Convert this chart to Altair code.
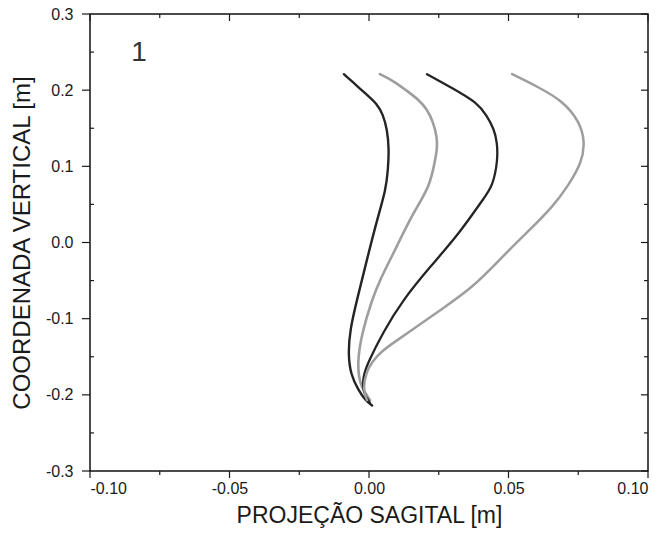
import altair as alt
import pandas as pd

# ---- data ----
curve_a_x = [-0.0090, -0.0050, -0.0011, 0.0029, 0.0050, 0.0065, 0.0072, 0.0068, 0.0061, 0.0029, -0.0007,
             -0.0043, -0.0068, -0.0075, -0.0065, -0.0039, -0.0014, 0.0011]
curve_a_y = [0.221, 0.208, 0.195, 0.182, 0.168, 0.149, 0.122, 0.096, 0.070, 0.030, -0.022,
             -0.075, -0.114, -0.147, -0.174, -0.193, -0.207, -0.214]

curve_b_x = [0.0039, 0.0093, 0.0136, 0.0176, 0.0208, 0.0229, 0.0244, 0.0244, 0.0237, 0.0219, 0.0158,
             0.0100, 0.0039, 0.0011, -0.0025, -0.0043, -0.0032, 0.0004]
curve_b_y = [0.221, 0.211, 0.199, 0.188, 0.175, 0.159, 0.139, 0.122, 0.109, 0.074, 0.039,
             -0.005, -0.049, -0.075, -0.118, -0.158, -0.189, -0.207]

curve_c_x = [0.0208, 0.0297, 0.0387, 0.0423, 0.0448, 0.0459, 0.0462, 0.0444, 0.0409, 0.0326, 0.0219,
             0.0122, 0.0050, -0.0004, -0.0022, -0.0022, 0.0004]
curve_c_y = [0.221, 0.203, 0.184, 0.166, 0.149, 0.132, 0.109, 0.074, 0.057, 0.013, -0.032,
             -0.075, -0.118, -0.158, -0.176, -0.197, -0.211]

curve_d_x = [0.0513, 0.0602, 0.0695, 0.0756, 0.0774, 0.0763, 0.0713, 0.0659, 0.0566, 0.0480, 0.0373,
             0.0254, 0.0158, 0.0090, 0.0045, 0.0012, -0.0010, -0.0022, -0.0007]
curve_d_y = [0.221, 0.205, 0.186, 0.158, 0.132, 0.105, 0.074, 0.047, 0.013, -0.018, -0.059,
             -0.089, -0.114, -0.131, -0.143, -0.156, -0.170, -0.193, -0.207]

series_names = ["B", "D", "A", "C"]
series_colors = ["#9e9e9e", "#9e9e9e", "#242424", "#242424"]
series_widths = [2.6, 2.3, 3.4, 3.4]

x_major = [-0.10, -0.05, 0.0, 0.05, 0.10]
x_minor = [-0.075, -0.025, 0.025, 0.075]
y_major = [-0.3, -0.2, -0.1, 0.0, 0.1, 0.2, 0.3]
y_minor = [-0.25, -0.15, -0.05, 0.05, 0.15, 0.25]

panel_label = ["1"]
panel_label_x = [-0.0824]
panel_label_y = [0.230]

x_title = "PROJEÇÃO SAGITAL [m]"
y_title = "COORDENADA VERTICAL [m]"

# ---- build tables ----
rows = []
for name, xs, ys in zip(["A", "B", "C", "D"], [curve_a_x, curve_b_x, curve_c_x, curve_d_x],
                        [curve_a_y, curve_b_y, curve_c_y, curve_d_y]):
    for i, (xv, yv) in enumerate(zip(xs, ys)):
        rows.append({"series": name, "i": i, "x": xv, "y": yv})
df = pd.DataFrame(rows)

W, H = 558, 457
FONT = "Liberation Sans"
xscale = alt.Scale(domain=[-0.1, 0.1], nice=False, zero=False)
yscale = alt.Scale(domain=[-0.3, 0.3], nice=False, zero=False)

x_label_expr = ("abs(datum.value) < 1e-9 ? '0.00' : (datum.value < 0 ? '-' + format(-datum.value, '.2f') "
                ": format(datum.value, '.2f'))")
y_label_expr = ("abs(datum.value) < 1e-9 ? '0.0' : (datum.value < 0 ? '-' + format(-datum.value, '.1f') "
                ": format(datum.value, '.1f'))")

xaxis = alt.Axis(values=x_major, labelExpr=x_label_expr, ticks=False, tickSize=0, domain=False, grid=False,
                 labelFont=FONT, labelFontSize=16, labelColor="#1a1a1a", labelPadding=9,
                 title=x_title, titleFont=FONT, titleFontSize=23, titleFontWeight="normal",
                 titleColor="#1a1a1a", titlePadding=8)
yaxis = alt.Axis(values=y_major, labelExpr=y_label_expr, ticks=False, tickSize=0, domain=False, grid=False,
                 labelFont=FONT, labelFontSize=16, labelColor="#1a1a1a", labelPadding=17,
                 title=y_title, titleFont=FONT, titleFontSize=24, titleFontWeight="normal",
                 titleColor="#1a1a1a", titlePadding=11)

lines = alt.Chart(df).mark_line(interpolate="basis", strokeCap="round", strokeJoin="round").encode(
    x=alt.X("x:Q", scale=xscale, axis=xaxis),
    y=alt.Y("y:Q", scale=yscale, axis=yaxis),
    detail="series:N",
    order=alt.Order("i:Q"),
    color=alt.Color("series:N", scale=alt.Scale(domain=series_names, range=series_colors), legend=None),
    strokeWidth=alt.StrokeWidth("series:N", scale=alt.Scale(domain=series_names, range=series_widths), legend=None),
)

label_df = pd.DataFrame({"t": panel_label, "x": panel_label_x, "y": panel_label_y})
label = alt.Chart(label_df).mark_text(font=FONT, fontSize=28, color="#333333", baseline="bottom",
                                      align="center").encode(
    x=alt.X("x:Q", scale=xscale), y=alt.Y("y:Q", scale=yscale), text="t:N")


def xticks(values, y0, y1):
    d = pd.DataFrame({"v": values})
    return alt.Chart(d).mark_rule(color="#1a1a1a", strokeWidth=1.2).encode(
        x=alt.X("v:Q", scale=xscale), y=alt.value(y0), y2=alt.value(y1))


def yticks(values, x0, x1):
    d = pd.DataFrame({"v": values})
    return alt.Chart(d).mark_rule(color="#1a1a1a", strokeWidth=1.2).encode(
        y=alt.Y("v:Q", scale=yscale), x=alt.value(x0), x2=alt.value(x1))


ticks = [
    xticks(x_major, H, H + 7), xticks(x_minor, H, H + 4),      # bottom, outward
    xticks(x_major, 0, 7), xticks(x_minor, 0, 4),              # top, inward
    yticks(y_major, 0, -8), yticks(y_minor, 0, 4),             # left
    yticks(y_major, W, W - 7), yticks(y_minor, W, W - 4),      # right, inward
]

chart = alt.layer(lines, label, *ticks).properties(
    width=W, height=H,
    autosize=alt.AutoSizeParams(type="none"),
    padding={"left": 90, "top": 14, "right": 18, "bottom": 73},
    background="white",
).configure_view(stroke="#111111", strokeWidth=1.5)

chart.save("out.html", embed_options={"renderer": "svg", "actions": False})
